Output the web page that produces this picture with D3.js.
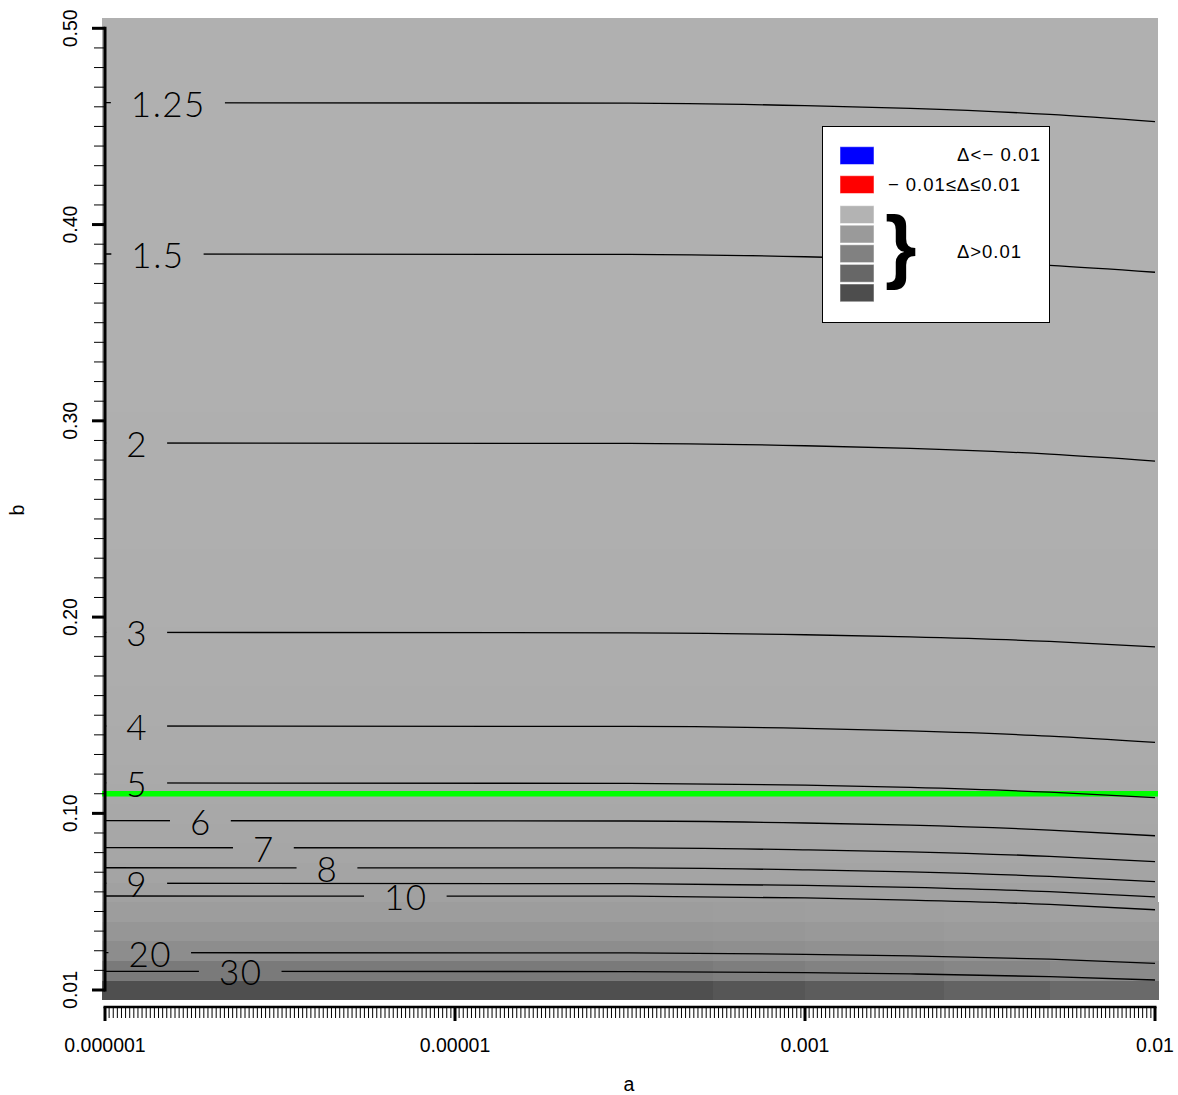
<!DOCTYPE html>
<html>
<head>
<meta charset="utf-8">
<script src="https://cdn.jsdelivr.net/npm/d3@7"></script>
<style>
body { margin: 0; background: #fff; }
text { font-family: "Liberation Sans", Arial, sans-serif; fill: #000; }
.clabel { font-family: Lato, "Open Sans", sans-serif; font-weight: 300; font-size: 35px; fill: #000; letter-spacing: 1.5px; }
</style>
</head>
<body>
<svg id="chart" width="1178" height="1095"></svg>
<script>
// ---- data ----
// x axis (a): tick values and labels as printed
var xTicks = [1e-6, 1e-5, 1e-3, 1e-2];
var xTickLabels = ["0.000001", "0.00001", "0.001", "0.01"];
// y axis (b)
var yTicks = [0.01, 0.10, 0.20, 0.30, 0.40, 0.50];
var yTickLabels = ["0.01", "0.10", "0.20", "0.30", "0.40", "0.50"];

// background grid rows (b) and grey level of each row (left part of the plot)
var rowB = [0.01,0.02,0.03,0.04,0.05,0.06,0.07,0.08,0.09,0.10,
            0.11,0.12,0.13,0.14,0.15,0.16,0.17,0.18,0.19,0.20,
            0.21,0.22,0.23,0.24,0.25,0.26,0.27,0.28,0.29,0.30,
            0.31,0.32,0.33,0.34,0.35,0.36,0.37,0.38,0.39,0.40,
            0.41,0.42,0.43,0.44,0.45,0.46,0.47,0.48,0.49,0.50];
var rowGray = [79,122,141,150,157,161,164,166,167,168,
               169,170,171,171,172,172,173,173,173,174,
               174,174,174,175,175,175,175,175,175,175,
               176,176,176,176,176,176,176,176,176,176,
               176,176,176,176,176,176,176,176,176,176];
// bottom rows get lighter towards large a: column breaks and greys
var colA = [1e-6, 3e-4, 1e-3, 2.5e-3, 5e-3, 1e-2];
var bottomGray = [
  [79, 86, 92, 99, 106],
  [122, 126, 130, 134, 138],
  [141, 143, 145, 147, 149],
  [150, 151, 153, 155, 156],
  [157, 158, 159, 160, 161]
];

// contour lines: b value of each level at these a values
var contourA = [1e-6, 1e-4, 1e-3, 2e-3, 5e-3, 1e-2];
var contourLabels = ["1.25","1.5","2","3","4","5","6","7","8","9","10","20","30"];
var contourB = [
  [0.4621, 0.4619, 0.4606, 0.4592, 0.4561, 0.4524],
  [0.3850, 0.3848, 0.3836, 0.3822, 0.3792, 0.3757],
  [0.2887, 0.2885, 0.2873, 0.2860, 0.2830, 0.2795],
  [0.1922, 0.1920, 0.1910, 0.1899, 0.1876, 0.1848],
  [0.1445, 0.1443, 0.1433, 0.1420, 0.1394, 0.1362],
  [0.1155, 0.1153, 0.1144, 0.1132, 0.1108, 0.1080],
  [0.0963, 0.0961, 0.0951, 0.0940, 0.0915, 0.0886],
  [0.0825, 0.0824, 0.0814, 0.0804, 0.0781, 0.0754],
  [0.0723, 0.0722, 0.0712, 0.0702, 0.0679, 0.0652],
  [0.0644, 0.0642, 0.0633, 0.0623, 0.0601, 0.0574],
  [0.0579, 0.0578, 0.0569, 0.0558, 0.0536, 0.0509],
  [0.0290, 0.0289, 0.0282, 0.0274, 0.0257, 0.0236],
  [0.0195, 0.0194, 0.0189, 0.0182, 0.0168, 0.0151]
];
// where along a each contour label sits
var contourLabelA = [1.51e-6, 1.41e-6, 1.23e-6, 1.23e-6, 1.23e-6, 1.23e-6,
                     1.87e-6, 2.83e-6, 4.3e-6, 1.23e-6, 7.2e-6, 1.34e-6, 2.43e-6];

// the green line (b constant)
var greenA = [1e-6, 1e-2];
var greenB = [0.11, 0.11];

// legend
var legendColors = ["#0000ff", "#ff0000", "#b3b3b3", "#9a9a9a", "#818181", "#676767", "#4d4d4d"];
var legendTexts = ["\u0394<\u2212 0.01", "\u2212 0.01\u2264\u0394\u22640.01", "\u0394>0.01"];

// ---- scales ----
var svg = d3.select("#chart");
var xScale = d3.scaleLog()
  .domain(xTicks)
  .range([105, 455, 805, 1155]);
var yScale = d3.scaleLinear()
  .domain([0.01, 0.50])
  .range([990, 28.3]);

var pad = 3; // half a grid cell outside the axis range
var bgX0 = xScale(xTicks[0]) - pad, bgX1 = xScale(xTicks[xTicks.length - 1]) + pad;

// ---- background cells ----
var bg = svg.append("g").attr("shape-rendering", "crispEdges");
rowB.forEach(function(b, i) {
  var yTop = yScale(b + 0.005), yBot = yScale(b - 0.005);
  if (i < bottomGray.length) {
    bottomGray[i].forEach(function(g, j) {
      var x0 = j == 0 ? bgX0 : xScale(colA[j]);
      var x1 = j == bottomGray[i].length - 1 ? bgX1 : xScale(colA[j + 1]);
      bg.append("rect")
        .attr("x", x0).attr("y", yTop)
        .attr("width", x1 - x0 + 0.5).attr("height", yBot - yTop + 0.5)
        .attr("fill", d3.rgb(g, g, g));
    });
  } else {
    bg.append("rect")
      .attr("x", bgX0).attr("y", yTop)
      .attr("width", bgX1 - bgX0).attr("height", yBot - yTop + 0.5)
      .attr("fill", d3.rgb(rowGray[i], rowGray[i], rowGray[i]));
  }
});

// ---- green line ----
svg.append("line")
  .attr("x1", bgX0).attr("x2", bgX1)
  .attr("y1", yScale(greenB[0])).attr("y2", yScale(greenB[1]))
  .attr("stroke", "#00ff00").attr("stroke-width", 5.3);

// ---- contour labels (measured first so each line can be broken round its label) ----
var labelG = svg.append("g");
var boxes = [];
contourLabels.forEach(function(lab, i) {
  var t = labelG.append("text")
    .attr("class", "clabel")
    .attr("x", xScale(contourLabelA[i]) + 0.75)
    .attr("y", yScale(contourB[i][0]))
    .attr("text-anchor", "middle")
    .attr("dominant-baseline", "central")
    .text(lab);
  boxes.push(t.node().getBBox());
});

var defs = svg.append("defs");
boxes.forEach(function(bb, i) {
  var m = defs.append("mask").attr("id", "gap" + i)
    .attr("maskUnits", "userSpaceOnUse")
    .attr("x", 0).attr("y", 0).attr("width", 1178).attr("height", 1095);
  m.append("rect").attr("x", 0).attr("y", 0).attr("width", 1178).attr("height", 1095).attr("fill", "#fff");
  m.append("rect")
    .attr("x", bb.x - 20).attr("y", bb.y)
    .attr("width", bb.width + 39).attr("height", bb.height)
    .attr("fill", "#000");
});

var line = d3.line()
  .x(function(d) { return xScale(d[0]); })
  .y(function(d) { return yScale(d[1]); })
  .curve(d3.curveMonotoneX);

svg.append("g")
  .selectAll("path")
  .data(contourB)
  .enter().append("path")
  .attr("mask", function(d, i) { return "url(#gap" + i + ")"; })
  .attr("d", function(bs) { return line(bs.map(function(b, j) { return [contourA[j], b]; })); })
  .attr("fill", "none")
  .attr("stroke", "#000")
  .attr("stroke-width", 1.3);

labelG.raise();

// ---- y axis ----
var yAxisG = svg.append("g");
yAxisG.append("line")
  .attr("x1", 105).attr("x2", 105)
  .attr("y1", yScale(0.50) - 1.5).attr("y2", yScale(0.01) + 1.5)
  .attr("stroke", "#000").attr("stroke-width", 3);
yAxisG.selectAll("line.minor")
  .data(rowB)
  .enter().append("line")
  .attr("class", "minor")
  .attr("x1", 94).attr("x2", 105)
  .attr("y1", function(d) { return yScale(d); })
  .attr("y2", function(d) { return yScale(d); })
  .attr("stroke", "#000").attr("stroke-width", 1);
yAxisG.selectAll("line.major")
  .data(yTicks)
  .enter().append("line")
  .attr("class", "major")
  .attr("x1", 92).attr("x2", 105)
  .attr("y1", function(d) { return yScale(d); })
  .attr("y2", function(d) { return yScale(d); })
  .attr("stroke", "#000").attr("stroke-width", 3);
yAxisG.selectAll("text")
  .data(yTicks)
  .enter().append("text")
  .attr("transform", function(d) { return "translate(77," + yScale(d) + ") rotate(-90)"; })
  .attr("text-anchor", "middle")
  .attr("font-size", 19.5)
  .text(function(d, i) { return yTickLabels[i]; });

// ---- x axis ----
var xAxisY = 1007;
var xAxisG = svg.append("g");
xAxisG.append("line")
  .attr("x1", xScale(xTicks[0]) - 1.5).attr("x2", xScale(xTicks[3]) + 1.5)
  .attr("y1", xAxisY).attr("y2", xAxisY)
  .attr("stroke", "#000").attr("stroke-width", 2.5);
var nMinor = 255;
var minorScale = d3.scaleLinear().domain([0, nMinor]).range([xScale(xTicks[0]), xScale(xTicks[3])]);
xAxisG.selectAll("line.minor")
  .data(d3.range(nMinor + 1))
  .enter().append("line")
  .attr("class", "minor")
  .attr("x1", function(d) { return minorScale(d); })
  .attr("x2", function(d) { return minorScale(d); })
  .attr("y1", xAxisY).attr("y2", 1018)
  .attr("stroke", "#000").attr("stroke-width", 1);
xAxisG.selectAll("line.major")
  .data(xTicks)
  .enter().append("line")
  .attr("class", "major")
  .attr("x1", function(d) { return xScale(d); })
  .attr("x2", function(d) { return xScale(d); })
  .attr("y1", xAxisY).attr("y2", 1021)
  .attr("stroke", "#000").attr("stroke-width", 3);
xAxisG.selectAll("text")
  .data(xTicks)
  .enter().append("text")
  .attr("x", function(d) { return xScale(d); })
  .attr("y", 1052)
  .attr("text-anchor", "middle")
  .attr("font-size", 19.5)
  .text(function(d, i) { return xTickLabels[i]; });

// ---- axis titles ----
svg.append("text").attr("x", 629).attr("y", 1091)
  .attr("text-anchor", "middle").attr("font-size", 19.5).text("a");
svg.append("text").attr("transform", "translate(24,510) rotate(-90)")
  .attr("text-anchor", "middle").attr("font-size", 19.5).text("b");

// ---- legend ----
var leg = svg.append("g");
leg.append("rect")
  .attr("x", 822.5).attr("y", 126.5).attr("width", 227).attr("height", 196)
  .attr("fill", "#fff").attr("stroke", "#000").attr("stroke-width", 1);
var swatchY = [146.7, 175.7, 205.7, 225.2, 244.8, 264.4, 284];
leg.selectAll("rect.sw")
  .data(legendColors)
  .enter().append("rect")
  .attr("class", "sw")
  .attr("x", 840).attr("y", function(d, i) { return swatchY[i]; })
  .attr("width", 34).attr("height", 17.8)
  .attr("fill", function(d) { return d; })
  .attr("stroke", "#fff").attr("stroke-opacity", 0.5).attr("stroke-width", 1);
var legTextX = [957, 888, 957];
var legTextY = [160.7, 191, 258.3];
var legTextLen = [83, 132, 64];
leg.selectAll("text.lt")
  .data(legendTexts)
  .enter().append("text")
  .attr("class", "lt")
  .attr("x", function(d, i) { return legTextX[i]; })
  .attr("y", function(d, i) { return legTextY[i]; })
  .attr("font-size", 18.5)
  .attr("textLength", function(d, i) { return legTextLen[i]; })
  .attr("lengthAdjust", "spacing")
  .text(function(d) { return d; });
leg.append("text")
  .attr("x", 885).attr("y", 273)
  .attr("font-size", 81)
  .attr("font-weight", "bold")
  .text("}");
</script>
</body>
</html>
